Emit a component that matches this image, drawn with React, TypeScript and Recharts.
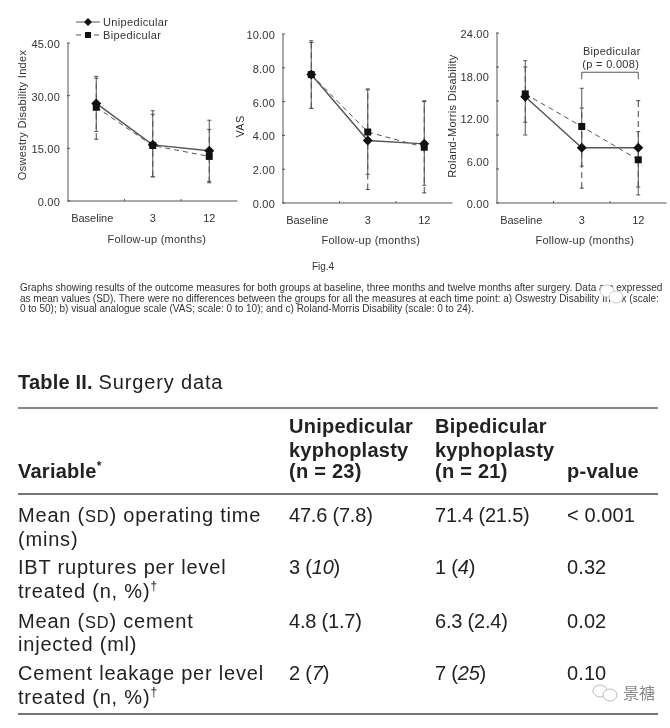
import React from 'react';
import { ComposedChart, Line, XAxis, YAxis, ErrorBar, ReferenceLine, Label } from 'recharts';

const timepoints = ['Baseline', '3', '12'];

const odiUni = [27.8, 16, 14.3];
const odiBi = [26.7, 15.8, 12.7];
const odiUniErr = [[19.8, 35.5], [6.9, 25.7], [5.6, 23]];
const odiBiErr = [[17.6, 35], [6.9, 24.7], [5.2, 20.4]];

const vasUni = [7.6, 3.7, 3.5];
const vasBi = [7.6, 4.2, 3.3];
const vasUniErr = [[5.6, 9.6], [1.7, 6.75], [1.05, 6.05]];
const vasBiErr = [[5.6, 9.5], [0.8, 6.7], [0.6, 6]];

const rmUni = [15, 7.8, 7.8];
const rmBi = [15.4, 10.8, 6.1];
const rmUniErr = [[9.6, 20.1], [5.2, 16.2], [1.13, 10.07]];
const rmBiErr = [[11.4, 19.2], [2.1, 13.4], [2.26, 14.45]];

const odiTicks = [0, 15, 30, 45];
const vasTicks = [0, 2, 4, 6, 8, 10];
const rmLabels = [0, 6, 12, 18, 24];
const rmMarks = [0, 4.8, 9.6, 14.4, 19.2, 24];

const captionLines = [
  'Graphs showing results of the outcome measures for both groups at baseline, three months and twelve months after surgery. Data are expressed',
  'as mean values (SD). There were no differences between the groups for all the measures at each time point: a) Oswestry Disability Index (scale:',
  '0 to 50); b) visual analogue scale (VAS; scale: 0 to 10); and c) Roland-Morris Disability (scale: 0 to 24).',
];

const headerVariable = 'Variable';
const headerUni = ['Unipedicular', 'kyphoplasty', '(n = 23)'];
const headerBi = ['Bipedicular', 'kyphoplasty', '(n = 21)'];
const headerP = 'p-value';
const rowVariable = [
  ['Mean (~SD~) operating time', '(mins)'],
  ['IBT ruptures per level', 'treated (n, %)^†'],
  ['Mean (~SD~) cement', 'injected (ml)'],
  ['Cement leakage per level', 'treated (n, %)^†'],
];
const rowUni = ['47.6 (7.8)', '3 (_10_)', '4.8 (1.7)', '2 (_7_)'];
const rowBi = ['71.4 (21.5)', '1 (_4_)', '6.3 (2.4)', '7 (_25_)'];
const rowP = ['< 0.001', '0.32', '0.02', '0.10'];

const FONT = '"Liberation Sans", Arial, sans-serif';
const INK = '#333';
const LINE = '#555';

const toRows = (uni: number[], bi: number[], uniErr: number[][], biErr: number[][]) =>
  timepoints.map((t, i) => ({
    t,
    uni: uni[i],
    bi: bi[i],
    uniErr: [uni[i] - uniErr[i][0], uniErr[i][1] - uni[i]],
    biErr: [bi[i] - biErr[i][0], biErr[i][1] - bi[i]],
  }));

const Diamond = (p: any) => (
  <path key={p.index} d={`M${p.cx - 5} ${p.cy}L${p.cx} ${p.cy - 5}L${p.cx + 5} ${p.cy}L${p.cx} ${p.cy + 5}Z`} fill="#111" />
);
const Square = (p: any) => <rect key={p.index} x={p.cx - 3.5} y={p.cy - 3.5} width={7} height={7} fill="#111" />;

const XTick = (p: any) => {
  const isBase = p.payload.value === 'Baseline';
  const band = 56.5;
  return (
    <g>
      {p.index < 2 && <line x1={p.x + band / 2} x2={p.x + band / 2} y1={p.y - 8} y2={p.y - 6} stroke={LINE} />}
      <text x={p.x + (isBase ? -4 : 0)} y={p.y + 15} textAnchor="middle" fontSize={11} fill={INK} fontFamily={FONT}>
        {p.payload.value}
      </text>
    </g>
  );
};

const YTick = (marks: number[], labels: number[]) => (p: any) => {
  const v = p.payload.value;
  return (
    <g>
      {marks.includes(v) && <line x1={p.x + 5} x2={p.x + 8} y1={p.y} y2={p.y} stroke={LINE} />}
      {labels.includes(v) && (
        <text x={p.x - 2} y={p.y + 5} textAnchor="end" fontSize={11} fill={INK} fontFamily={FONT} letterSpacing={0.2}>
          {v.toFixed(2)}
        </text>
      )}
    </g>
  );
};

const LegendBox = () => (
  <svg width={120} height={36} style={{ position: 'absolute', left: 75, top: 15 }}>
    <line x1={1} x2={25} y1={7} y2={7} stroke={LINE} />
    <path d="M9 7L13 3L17 7L13 11Z" fill="#111" />
    <text x={28} y={11} fontSize={11} fill={INK} fontFamily={FONT} letterSpacing={0.35}>Unipedicular</text>
    <line x1={1} x2={25} y1={20} y2={20} stroke={LINE} strokeDasharray="5 4" />
    <rect x={10} y={17} width={6} height={6} fill="#111" />
    <text x={28} y={24} fontSize={11} fill={INK} fontFamily={FONT} letterSpacing={0.35}>Bipedicular</text>
  </svg>
);

type PanelProps = {
  left: number; top: number; bottom: number; axisX: number; width: number; height: number;
  rows: any[]; domainMax: number; ticks: number[]; marks: number[]; labels: number[];
  yLabel: string; yLabelOffset: number; yLabelDy: number; xLabelOffset: number; xLabelDx: number; children?: React.ReactNode;
};

const Panel = ({ left, top, bottom, axisX, width, height, rows, domainMax, ticks, marks, labels, yLabel, yLabelOffset, yLabelDy, xLabelOffset, xLabelDx, children }: PanelProps) => (
  <div style={{ position: 'absolute', left, top: 0 }}>
    <ComposedChart
      width={width}
      height={height}
      data={rows}
      margin={{ top, bottom: 0, left: 0, right: width - axisX - 169.5 }}
    >
      <XAxis
        dataKey="t"
        scale="band"
        height={height - bottom}
        axisLine={{ stroke: LINE }}
        tickLine={false}
        tick={<XTick />}
        interval={0}
        tickMargin={0}
      >
        <Label value="Follow-up (months)" position="insideTop" offset={xLabelOffset} fontSize={11} fill={INK} fontFamily={FONT} dx={xLabelDx} letterSpacing={0.25} />
      </XAxis>
      <YAxis
        type="number"
        width={axisX}
        domain={[0, domainMax]}
        ticks={ticks}
        interval={0}
        axisLine={{ stroke: LINE }}
        tickLine={false}
        tick={YTick(marks, labels)}
        tickMargin={0}
      >
        <Label value={yLabel} angle={-90} position="insideLeft" offset={yLabelOffset} dy={yLabelDy} fontSize={11} fill={INK} fontFamily={FONT} letterSpacing={0.3} style={{ textAnchor: 'middle' }} />
      </YAxis>
      <Line dataKey="bi" stroke={LINE} strokeWidth={1} strokeDasharray="5 4" dot={Square} isAnimationActive={false}>
        <ErrorBar dataKey="biErr" width={2} stroke="#444" strokeWidth={1} strokeDasharray="6 4" isAnimationActive={false} />
      </Line>
      <Line dataKey="uni" stroke={LINE} strokeWidth={1.4} dot={Diamond} isAnimationActive={false}>
        <ErrorBar dataKey="uniErr" width={2} stroke="#555" strokeWidth={1} isAnimationActive={false} />
      </Line>
      {children}
    </ComposedChart>
  </div>
);

const renderRich = (s: string) =>
  s.split(/(_[^_]+_|~[^~]+~|\^.)/).filter(Boolean).map((part, i) => {
    if (part[0] === '_') return <tspan key={i} fontStyle="italic">{part.slice(1, -1)}</tspan>;
    if (part[0] === '~') return <tspan key={i} fontSize="0.82em">{part.slice(1, -1)}</tspan>;
    if (part[0] === '^') return <tspan key={i} fontSize="0.6em" dy={-8}>{part.slice(1)}</tspan>;
    return <tspan key={i}>{part}</tspan>;
  });

const COLS = [18, 289, 435, 567];
const ROW_BASE = [[522, 546], [574, 598], [628, 651], [680, 704]];
const HEAD_BASE = [433, 457, 478];
const TS = { fontFamily: FONT, fontSize: 20, fill: '#222', letterSpacing: 0.8 };
const TN = { ...TS, letterSpacing: -0.2 };
const TP = { ...TS, letterSpacing: 0.1 };
const TB = { ...TS, fontWeight: 700, letterSpacing: 0.25 };

const TableLayer = () => (
  <svg width={670} height={728} style={{ position: 'absolute', left: 0, top: 0 }}>
    <text x={323} y={270} textAnchor="middle" fontSize={10} fontFamily={FONT} fill={INK}>Fig.4</text>
    {captionLines.map((l, i) => (
      <text key={i} x={20} y={[290.5, 301.5, 312][i]} fontSize={10} fontFamily={FONT} fill={INK}>{l}</text>
    ))}
    <text x={18} y={389} {...TS} letterSpacing={0.2}><tspan fontWeight={700}>Table II.</tspan> <tspan letterSpacing={0.85}>Surgery data</tspan></text>
    <line x1={18} x2={658} y1={408} y2={408} stroke="#888" strokeWidth={2} />
    <line x1={18} x2={658} y1={494} y2={494} stroke="#777" strokeWidth={2} />
    <line x1={18} x2={658} y1={714} y2={714} stroke="#777" strokeWidth={2} />
    <text x={COLS[0]} y={478} {...TB}>{headerVariable}<tspan fontSize={12} dy={-8}>*</tspan></text>
    {headerUni.map((l, i) => <text key={i} x={COLS[1]} y={HEAD_BASE[i]} {...TB}>{l}</text>)}
    {headerBi.map((l, i) => <text key={i} x={COLS[2]} y={HEAD_BASE[i]} {...TB}>{l}</text>)}
    <text x={COLS[3]} y={478} {...TB}>{headerP}</text>
    {rowVariable.map((lines, r) =>
      lines.map((l, i) => <text key={`${r}${i}`} x={COLS[0]} y={ROW_BASE[r][i]} {...TS}>{renderRich(l)}</text>)
    )}
    {rowUni.map((v, r) => <text key={r} x={COLS[1]} y={ROW_BASE[r][0]} {...TN}>{renderRich(v)}</text>)}
    {rowBi.map((v, r) => <text key={r} x={COLS[2]} y={ROW_BASE[r][0]} {...TN}>{renderRich(v)}</text>)}
    {rowP.map((v, r) => <text key={r} x={COLS[3]} y={ROW_BASE[r][0]} {...TP}>{v}</text>)}
    <g fill="none" stroke="#bbb" strokeWidth={1}>
      <ellipse cx={600} cy={691} rx={7} ry={6} />
      <ellipse cx={610} cy={695} rx={7} ry={6} fill="#fff" />
    </g>
    <text x={623} y={699} fontSize={16} fontFamily='"Noto Sans CJK SC"' fill="#888">景禟</text>
    <g fill="#fff" stroke="#ccc" strokeWidth={1}>
      <ellipse cx={607} cy={291} rx={7} ry={6} />
      <ellipse cx={616} cy={297} rx={7} ry={6} />
    </g>
  </svg>
);

export default function App() {
  return (
    <div style={{ position: 'absolute', left: 0, top: 0, width: 670, height: 728, background: '#fff', overflow: 'hidden', filter: 'blur(0.35px)' }}>
      <TableLayer />
      <Panel left={0} top={43} bottom={201} axisX={68} width={245} height={250}
        rows={toRows(odiUni, odiBi, odiUniErr, odiBiErr)} domainMax={45}
        ticks={odiTicks} marks={odiTicks} labels={odiTicks}
        yLabel="Oswestry Disability Index" yLabelOffset={22} yLabelDy={-7} xLabelOffset={34} xLabelDx={4} />
      <LegendBox />
      <Panel left={230} top={34} bottom={203} axisX={53} width={230} height={250}
        rows={toRows(vasUni, vasBi, vasUniErr, vasBiErr)} domainMax={10}
        ticks={vasTicks} marks={vasTicks} labels={vasTicks}
        yLabel="VAS" yLabelOffset={10} yLabelDy={8} xLabelOffset={33} xLabelDx={3} />
      <Panel left={440} top={33} bottom={203} axisX={57} width={230} height={250}
        rows={toRows(rmUni, rmBi, rmUniErr, rmBiErr)} domainMax={24}
        ticks={[...new Set([...rmLabels, ...rmMarks])].sort((a, b) => a - b)} marks={rmMarks} labels={rmLabels}
        yLabel="Roland-Morris Disability" yLabelOffset={12} yLabelDy={-2} xLabelOffset={33} xLabelDx={3}>
        <ReferenceLine segment={[{ x: '3', y: 18.46 }, { x: '12', y: 18.46 }]} stroke={LINE} ifOverflow="visible" />
        <ReferenceLine segment={[{ x: '3', y: 18.46 }, { x: '3', y: 17.47 }]} stroke={LINE} ifOverflow="visible" />
        <ReferenceLine segment={[{ x: '12', y: 18.46 }, { x: '12', y: 17.47 }]} stroke={LINE} ifOverflow="visible" />
        <ReferenceLine y={21.47} stroke="none" label={{ value: 'Bipedicular', position: 'center', dx: 30, fontSize: 11, fill: INK, fontFamily: FONT, letterSpacing: 0.3 }} />
        <ReferenceLine y={19.6} stroke="none" label={{ value: '(p = 0.008)', position: 'center', dx: 29, fontSize: 11, fill: INK, fontFamily: FONT, letterSpacing: 0.3 }} />
      </Panel>
    </div>
  );
}
